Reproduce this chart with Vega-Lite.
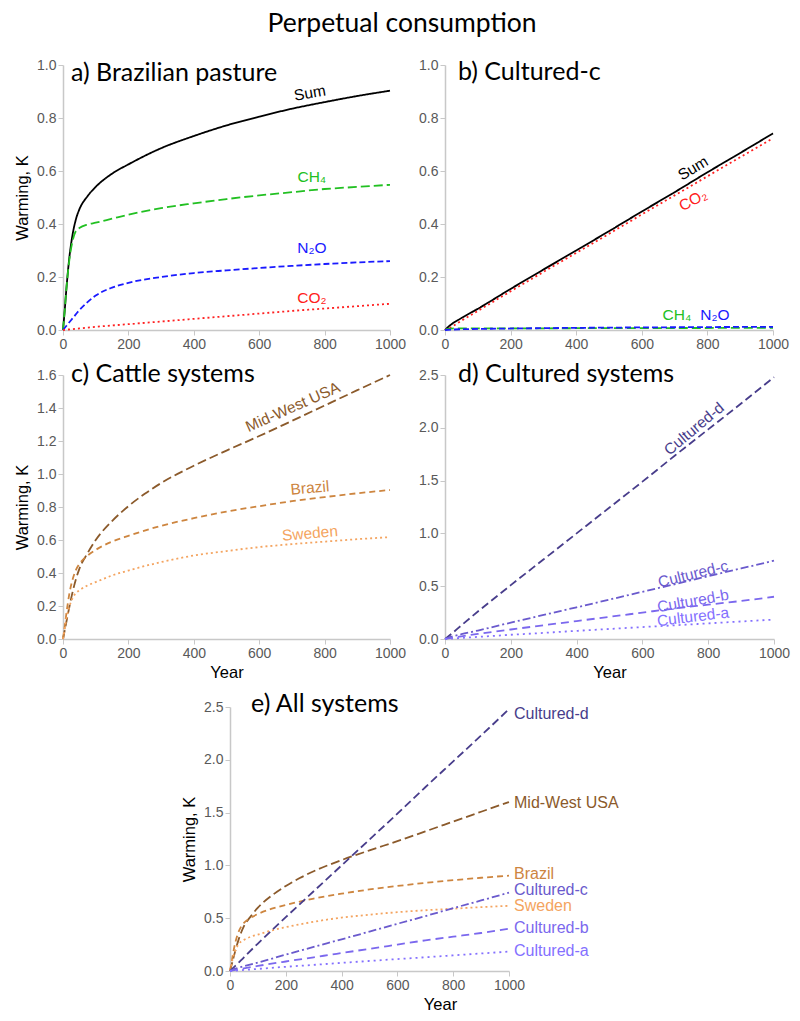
{
  "$schema": "https://vega.github.io/schema/vega-lite/v6.json",
  "background": "white",
  "padding": {"left": 14, "top": 10, "right": 5, "bottom": 5},
  "title": {"text": "Perpetual consumption", "font": "Lato", "fontSize": 26.5, "fontWeight": "normal", "color": "#000000", "anchor": "middle", "offset": 21},
  "datasets": {
    "lines": [
      {"panel":"a","series":"Sum","year":0,"value":0},{"panel":"a","series":"Sum","year":5,"value":0.07},{"panel":"a","series":"Sum","year":10,"value":0.15},{"panel":"a","series":"Sum","year":20,"value":0.28},{"panel":"a","series":"Sum","year":30,"value":0.365},{"panel":"a","series":"Sum","year":40,"value":0.42},{"panel":"a","series":"Sum","year":50,"value":0.455},{"panel":"a","series":"Sum","year":75,"value":0.505},{"panel":"a","series":"Sum","year":100,"value":0.54},{"panel":"a","series":"Sum","year":150,"value":0.59},{"panel":"a","series":"Sum","year":200,"value":0.625},{"panel":"a","series":"Sum","year":300,"value":0.686},{"panel":"a","series":"Sum","year":400,"value":0.732},{"panel":"a","series":"Sum","year":500,"value":0.772},{"panel":"a","series":"Sum","year":600,"value":0.805},{"panel":"a","series":"Sum","year":700,"value":0.835},{"panel":"a","series":"Sum","year":800,"value":0.86},{"panel":"a","series":"Sum","year":900,"value":0.883},{"panel":"a","series":"Sum","year":1000,"value":0.903},
      {"panel":"a","series":"CH4","year":0,"value":0},{"panel":"a","series":"CH4","year":5,"value":0.07},{"panel":"a","series":"CH4","year":10,"value":0.15},{"panel":"a","series":"CH4","year":20,"value":0.27},{"panel":"a","series":"CH4","year":30,"value":0.34},{"panel":"a","series":"CH4","year":40,"value":0.375},{"panel":"a","series":"CH4","year":50,"value":0.385},{"panel":"a","series":"CH4","year":75,"value":0.398},{"panel":"a","series":"CH4","year":100,"value":0.405},{"panel":"a","series":"CH4","year":150,"value":0.42},{"panel":"a","series":"CH4","year":200,"value":0.435},{"panel":"a","series":"CH4","year":300,"value":0.46},{"panel":"a","series":"CH4","year":400,"value":0.478},{"panel":"a","series":"CH4","year":500,"value":0.494},{"panel":"a","series":"CH4","year":600,"value":0.508},{"panel":"a","series":"CH4","year":700,"value":0.52},{"panel":"a","series":"CH4","year":800,"value":0.532},{"panel":"a","series":"CH4","year":900,"value":0.54},{"panel":"a","series":"CH4","year":1000,"value":0.548},
      {"panel":"a","series":"N2O","year":0,"value":0},{"panel":"a","series":"N2O","year":10,"value":0.015},{"panel":"a","series":"N2O","year":20,"value":0.03},{"panel":"a","series":"N2O","year":30,"value":0.045},{"panel":"a","series":"N2O","year":50,"value":0.075},{"panel":"a","series":"N2O","year":75,"value":0.105},{"panel":"a","series":"N2O","year":100,"value":0.13},{"panel":"a","series":"N2O","year":150,"value":0.16},{"panel":"a","series":"N2O","year":200,"value":0.178},{"panel":"a","series":"N2O","year":300,"value":0.2},{"panel":"a","series":"N2O","year":400,"value":0.215},{"panel":"a","series":"N2O","year":500,"value":0.225},{"panel":"a","series":"N2O","year":600,"value":0.234},{"panel":"a","series":"N2O","year":700,"value":0.242},{"panel":"a","series":"N2O","year":800,"value":0.249},{"panel":"a","series":"N2O","year":900,"value":0.255},{"panel":"a","series":"N2O","year":1000,"value":0.26},
      {"panel":"a","series":"CO2","year":0,"value":0},{"panel":"a","series":"CO2","year":50,"value":0.006},{"panel":"a","series":"CO2","year":100,"value":0.012},{"panel":"a","series":"CO2","year":200,"value":0.022},{"panel":"a","series":"CO2","year":300,"value":0.032},{"panel":"a","series":"CO2","year":400,"value":0.042},{"panel":"a","series":"CO2","year":500,"value":0.052},{"panel":"a","series":"CO2","year":600,"value":0.062},{"panel":"a","series":"CO2","year":700,"value":0.072},{"panel":"a","series":"CO2","year":800,"value":0.081},{"panel":"a","series":"CO2","year":900,"value":0.09},{"panel":"a","series":"CO2","year":1000,"value":0.099},
      {"panel":"b","series":"Sum","year":0,"value":0},{"panel":"b","series":"Sum","year":10,"value":0.012},{"panel":"b","series":"Sum","year":20,"value":0.022},{"panel":"b","series":"Sum","year":50,"value":0.045},{"panel":"b","series":"Sum","year":100,"value":0.08},{"panel":"b","series":"Sum","year":200,"value":0.155},{"panel":"b","series":"Sum","year":300,"value":0.228},{"panel":"b","series":"Sum","year":400,"value":0.3},{"panel":"b","series":"Sum","year":500,"value":0.373},{"panel":"b","series":"Sum","year":600,"value":0.447},{"panel":"b","series":"Sum","year":700,"value":0.52},{"panel":"b","series":"Sum","year":800,"value":0.595},{"panel":"b","series":"Sum","year":900,"value":0.668},{"panel":"b","series":"Sum","year":1000,"value":0.742},
      {"panel":"b","series":"CO2","year":0,"value":0},{"panel":"b","series":"CO2","year":10,"value":0.006},{"panel":"b","series":"CO2","year":20,"value":0.012},{"panel":"b","series":"CO2","year":50,"value":0.035},{"panel":"b","series":"CO2","year":100,"value":0.072},{"panel":"b","series":"CO2","year":200,"value":0.146},{"panel":"b","series":"CO2","year":300,"value":0.219},{"panel":"b","series":"CO2","year":400,"value":0.291},{"panel":"b","series":"CO2","year":500,"value":0.363},{"panel":"b","series":"CO2","year":600,"value":0.436},{"panel":"b","series":"CO2","year":700,"value":0.508},{"panel":"b","series":"CO2","year":800,"value":0.58},{"panel":"b","series":"CO2","year":900,"value":0.652},{"panel":"b","series":"CO2","year":1000,"value":0.724},
      {"panel":"b","series":"CH4","year":0,"value":0},{"panel":"b","series":"CH4","year":10,"value":0.004},{"panel":"b","series":"CH4","year":30,"value":0.006},{"panel":"b","series":"CH4","year":100,"value":0.006},{"panel":"b","series":"CH4","year":500,"value":0.007},{"panel":"b","series":"CH4","year":1000,"value":0.008},
      {"panel":"b","series":"N2O","year":0,"value":0},{"panel":"b","series":"N2O","year":50,"value":0.003},{"panel":"b","series":"N2O","year":100,"value":0.004},{"panel":"b","series":"N2O","year":300,"value":0.007},{"panel":"b","series":"N2O","year":500,"value":0.009},{"panel":"b","series":"N2O","year":800,"value":0.011},{"panel":"b","series":"N2O","year":1000,"value":0.012},
      {"panel":"c","series":"Mid-West USA","year":0,"value":0},{"panel":"c","series":"Mid-West USA","year":5,"value":0.05},{"panel":"c","series":"Mid-West USA","year":10,"value":0.1},{"panel":"c","series":"Mid-West USA","year":20,"value":0.2},{"panel":"c","series":"Mid-West USA","year":30,"value":0.29},{"panel":"c","series":"Mid-West USA","year":40,"value":0.365},{"panel":"c","series":"Mid-West USA","year":50,"value":0.425},{"panel":"c","series":"Mid-West USA","year":75,"value":0.52},{"panel":"c","series":"Mid-West USA","year":100,"value":0.6},{"panel":"c","series":"Mid-West USA","year":150,"value":0.715},{"panel":"c","series":"Mid-West USA","year":200,"value":0.805},{"panel":"c","series":"Mid-West USA","year":250,"value":0.88},{"panel":"c","series":"Mid-West USA","year":300,"value":0.945},{"panel":"c","series":"Mid-West USA","year":400,"value":1.05},{"panel":"c","series":"Mid-West USA","year":500,"value":1.142},{"panel":"c","series":"Mid-West USA","year":600,"value":1.23},{"panel":"c","series":"Mid-West USA","year":700,"value":1.322},{"panel":"c","series":"Mid-West USA","year":800,"value":1.415},{"panel":"c","series":"Mid-West USA","year":900,"value":1.508},{"panel":"c","series":"Mid-West USA","year":1000,"value":1.6},
      {"panel":"c","series":"Brazil","year":0,"value":0},{"panel":"c","series":"Brazil","year":5,"value":0.07},{"panel":"c","series":"Brazil","year":10,"value":0.15},{"panel":"c","series":"Brazil","year":20,"value":0.28},{"panel":"c","series":"Brazil","year":30,"value":0.365},{"panel":"c","series":"Brazil","year":40,"value":0.42},{"panel":"c","series":"Brazil","year":50,"value":0.455},{"panel":"c","series":"Brazil","year":75,"value":0.505},{"panel":"c","series":"Brazil","year":100,"value":0.54},{"panel":"c","series":"Brazil","year":150,"value":0.59},{"panel":"c","series":"Brazil","year":200,"value":0.625},{"panel":"c","series":"Brazil","year":300,"value":0.686},{"panel":"c","series":"Brazil","year":400,"value":0.732},{"panel":"c","series":"Brazil","year":500,"value":0.772},{"panel":"c","series":"Brazil","year":600,"value":0.805},{"panel":"c","series":"Brazil","year":700,"value":0.835},{"panel":"c","series":"Brazil","year":800,"value":0.86},{"panel":"c","series":"Brazil","year":900,"value":0.883},{"panel":"c","series":"Brazil","year":1000,"value":0.903},
      {"panel":"c","series":"Sweden","year":0,"value":0},{"panel":"c","series":"Sweden","year":5,"value":0.06},{"panel":"c","series":"Sweden","year":10,"value":0.12},{"panel":"c","series":"Sweden","year":20,"value":0.2},{"panel":"c","series":"Sweden","year":30,"value":0.25},{"panel":"c","series":"Sweden","year":40,"value":0.28},{"panel":"c","series":"Sweden","year":50,"value":0.295},{"panel":"c","series":"Sweden","year":75,"value":0.325},{"panel":"c","series":"Sweden","year":100,"value":0.345},{"panel":"c","series":"Sweden","year":150,"value":0.385},{"panel":"c","series":"Sweden","year":200,"value":0.415},{"panel":"c","series":"Sweden","year":300,"value":0.466},{"panel":"c","series":"Sweden","year":400,"value":0.506},{"panel":"c","series":"Sweden","year":500,"value":0.533},{"panel":"c","series":"Sweden","year":600,"value":0.557},{"panel":"c","series":"Sweden","year":700,"value":0.575},{"panel":"c","series":"Sweden","year":800,"value":0.59},{"panel":"c","series":"Sweden","year":900,"value":0.605},{"panel":"c","series":"Sweden","year":1000,"value":0.617},
      {"panel":"d","series":"Cultured-d","year":0,"value":0},{"panel":"d","series":"Cultured-d","year":20,"value":0.05},{"panel":"d","series":"Cultured-d","year":50,"value":0.13},{"panel":"d","series":"Cultured-d","year":100,"value":0.26},{"panel":"d","series":"Cultured-d","year":200,"value":0.51},{"panel":"d","series":"Cultured-d","year":300,"value":0.755},{"panel":"d","series":"Cultured-d","year":400,"value":1.0},{"panel":"d","series":"Cultured-d","year":500,"value":1.245},{"panel":"d","series":"Cultured-d","year":600,"value":1.49},{"panel":"d","series":"Cultured-d","year":700,"value":1.74},{"panel":"d","series":"Cultured-d","year":800,"value":1.985},{"panel":"d","series":"Cultured-d","year":900,"value":2.23},{"panel":"d","series":"Cultured-d","year":1000,"value":2.48},
      {"panel":"d","series":"Cultured-c","year":0,"value":0},{"panel":"d","series":"Cultured-c","year":10,"value":0.012},{"panel":"d","series":"Cultured-c","year":20,"value":0.022},{"panel":"d","series":"Cultured-c","year":50,"value":0.045},{"panel":"d","series":"Cultured-c","year":100,"value":0.08},{"panel":"d","series":"Cultured-c","year":200,"value":0.155},{"panel":"d","series":"Cultured-c","year":300,"value":0.228},{"panel":"d","series":"Cultured-c","year":400,"value":0.3},{"panel":"d","series":"Cultured-c","year":500,"value":0.373},{"panel":"d","series":"Cultured-c","year":600,"value":0.447},{"panel":"d","series":"Cultured-c","year":700,"value":0.52},{"panel":"d","series":"Cultured-c","year":800,"value":0.595},{"panel":"d","series":"Cultured-c","year":900,"value":0.668},{"panel":"d","series":"Cultured-c","year":1000,"value":0.742},
      {"panel":"d","series":"Cultured-b","year":0,"value":0},{"panel":"d","series":"Cultured-b","year":20,"value":0.01},{"panel":"d","series":"Cultured-b","year":50,"value":0.025},{"panel":"d","series":"Cultured-b","year":100,"value":0.048},{"panel":"d","series":"Cultured-b","year":200,"value":0.09},{"panel":"d","series":"Cultured-b","year":300,"value":0.13},{"panel":"d","series":"Cultured-b","year":400,"value":0.17},{"panel":"d","series":"Cultured-b","year":500,"value":0.21},{"panel":"d","series":"Cultured-b","year":600,"value":0.25},{"panel":"d","series":"Cultured-b","year":700,"value":0.29},{"panel":"d","series":"Cultured-b","year":800,"value":0.325},{"panel":"d","series":"Cultured-b","year":900,"value":0.36},{"panel":"d","series":"Cultured-b","year":1000,"value":0.4},
      {"panel":"d","series":"Cultured-a","year":0,"value":0},{"panel":"d","series":"Cultured-a","year":50,"value":0.01},{"panel":"d","series":"Cultured-a","year":100,"value":0.02},{"panel":"d","series":"Cultured-a","year":200,"value":0.04},{"panel":"d","series":"Cultured-a","year":300,"value":0.058},{"panel":"d","series":"Cultured-a","year":400,"value":0.077},{"panel":"d","series":"Cultured-a","year":500,"value":0.095},{"panel":"d","series":"Cultured-a","year":600,"value":0.113},{"panel":"d","series":"Cultured-a","year":700,"value":0.13},{"panel":"d","series":"Cultured-a","year":800,"value":0.148},{"panel":"d","series":"Cultured-a","year":900,"value":0.166},{"panel":"d","series":"Cultured-a","year":1000,"value":0.184}
    ],
    "labels": [
      {"panel":"a","series":"Sum","label":"Sum","year":755,"value":0.894},
      {"panel":"a","series":"CH4","label":"CH₄","year":761,"value":0.577},
      {"panel":"a","series":"N2O","label":"N₂O","year":761,"value":0.31},
      {"panel":"a","series":"CO2","label":"CO₂","year":761,"value":0.12},
      {"panel":"b","series":"Sum","label":"Sum","year":756,"value":0.61},
      {"panel":"b","series":"CO2","label":"CO₂","year":756,"value":0.49},
      {"panel":"b","series":"CH4","label":"CH₄","year":707,"value":0.057},
      {"panel":"b","series":"N2O","label":"N₂O","year":823,"value":0.057},
      {"panel":"c","series":"Mid-West USA","label":"Mid-West USA","year":703,"value":1.406},
      {"panel":"c","series":"Brazil","label":"Brazil","year":755,"value":0.915},
      {"panel":"c","series":"Sweden","label":"Sweden","year":755,"value":0.64},
      {"panel":"d","series":"Cultured-d","label":"Cultured-d","year":757,"value":1.99},
      {"panel":"d","series":"Cultured-c","label":"Cultured-c","year":754,"value":0.615},
      {"panel":"d","series":"Cultured-b","label":"Cultured-b","year":754,"value":0.36},
      {"panel":"d","series":"Cultured-a","label":"Cultured-a","year":754,"value":0.21},
      {"panel":"e","series":"Cultured-d","label":"Cultured-d","year":1000,"value":2.43},
      {"panel":"e","series":"Mid-West USA","label":"Mid-West USA","year":1000,"value":1.59},
      {"panel":"e","series":"Brazil","label":"Brazil","year":1000,"value":0.92},
      {"panel":"e","series":"Cultured-c","label":"Cultured-c","year":1000,"value":0.77},
      {"panel":"e","series":"Sweden","label":"Sweden","year":1000,"value":0.62},
      {"panel":"e","series":"Cultured-b","label":"Cultured-b","year":1000,"value":0.41},
      {"panel":"e","series":"Cultured-a","label":"Cultured-a","year":1000,"value":0.19}
    ],
    "blank": [{"v": 0}]
  },
  "spacing": 11,
  "vconcat": [
    {
      "spacing": 12,
      "hconcat": [
        {
          "width": 327, "height": 265,
          "title": {"text": "a) Brazilian pasture", "anchor": "start", "frame": "group", "baseline": "top", "offset": -28, "dx": 8, "font": "Lato", "fontSize": 25, "fontWeight": "normal", "color": "#000000"},
          "encoding": {
            "x": {"field": "year", "type": "quantitative", "scale": {"domain": [0, 1000], "nice": false}, "axis": {"values": [0, 200, 400, 600, 800, 1000], "format": "d", "title": null}},
            "y": {"field": "value", "type": "quantitative", "scale": {"domain": [0, 1], "nice": false}, "axis": {"values": [0, 0.2, 0.4, 0.6, 0.8, 1.0], "format": ".1f", "title": "Warming, K"}},
            "color": {"field": "series", "type": "nominal", "legend": null, "scale": {"domain": ["Sum","CH4","N2O","CO2","Mid-West USA","Brazil","Sweden","Cultured-d","Cultured-c","Cultured-b","Cultured-a"], "range": ["#000000","#22c022","#1a1aff","#ff2020","#8b5a2b","#cd853f","#f4a460","#483d8b","#6a5acd","#7b68ee","#8470ff"]}}
          },
          "layer": [
            {"data": {"name": "lines"}, "transform": [{"filter": "datum.panel == 'a'"}], "mark": {"type": "line", "strokeWidth": 1.8, "interpolate": "monotone"},
             "encoding": {"strokeDash": {"field": "series", "type": "nominal", "legend": null, "scale": {"domain": ["Sum","CH4","N2O","CO2","Mid-West USA","Brazil","Sweden","Cultured-d","Cultured-c","Cultured-b","Cultured-a"], "range": [[1,0],[9,4],[6,3],[2,3],[9,4],[6,4],[2,3],[8,4],[8,3,2,3],[8,5],[2,4]]}}}},
            {"data": {"name": "labels"}, "transform": [{"filter": "datum.panel == 'a' && datum.series != 'Sum'"}], "mark": {"type": "text", "font": "Liberation Sans", "fontSize": 15.5}, "encoding": {"text": {"field": "label"}}},
            {"data": {"name": "labels"}, "transform": [{"filter": "datum.panel == 'a' && datum.series == 'Sum'"}], "mark": {"type": "text", "font": "Liberation Sans", "fontSize": 15.5, "angle": 350}, "encoding": {"text": {"field": "label"}}}
          ]
        },
        {
          "width": 328, "height": 265,
          "title": {"text": "b) Cultured-c", "anchor": "start", "frame": "group", "baseline": "top", "offset": -27, "dx": 13, "font": "Lato", "fontSize": 25, "fontWeight": "normal", "color": "#000000"},
          "encoding": {
            "x": {"field": "year", "type": "quantitative", "scale": {"domain": [0, 1000], "nice": false}, "axis": {"values": [0, 200, 400, 600, 800, 1000], "format": "d", "title": null}},
            "y": {"field": "value", "type": "quantitative", "scale": {"domain": [0, 1], "nice": false}, "axis": {"values": [0, 0.2, 0.4, 0.6, 0.8, 1.0], "format": ".1f", "title": null}},
            "color": {"field": "series", "type": "nominal", "legend": null, "scale": {"domain": ["Sum","CH4","N2O","CO2","Mid-West USA","Brazil","Sweden","Cultured-d","Cultured-c","Cultured-b","Cultured-a"], "range": ["#000000","#22c022","#1a1aff","#ff2020","#8b5a2b","#cd853f","#f4a460","#483d8b","#6a5acd","#7b68ee","#8470ff"]}}
          },
          "layer": [
            {"data": {"name": "lines"}, "transform": [{"filter": "datum.panel == 'b'"}], "mark": {"type": "line", "strokeWidth": 1.8, "interpolate": "monotone"},
             "encoding": {"strokeDash": {"field": "series", "type": "nominal", "legend": null, "scale": {"domain": ["Sum","CH4","N2O","CO2","Mid-West USA","Brazil","Sweden","Cultured-d","Cultured-c","Cultured-b","Cultured-a"], "range": [[1,0],[9,4],[6,3],[2,3],[9,4],[6,4],[2,3],[8,4],[8,3,2,3],[8,5],[2,4]]}}}},
            {"data": {"name": "labels"}, "transform": [{"filter": "datum.panel == 'b' && (datum.series == 'CH4' || datum.series == 'N2O')"}], "mark": {"type": "text", "font": "Liberation Sans", "fontSize": 15.5}, "encoding": {"text": {"field": "label"}}},
            {"data": {"name": "labels"}, "transform": [{"filter": "datum.panel == 'b' && datum.series == 'Sum'"}], "mark": {"type": "text", "font": "Liberation Sans", "fontSize": 15.5, "angle": 329}, "encoding": {"text": {"field": "label"}}},
            {"data": {"name": "labels"}, "transform": [{"filter": "datum.panel == 'b' && datum.series == 'CO2'"}], "mark": {"type": "text", "font": "Liberation Sans", "fontSize": 15.5, "angle": 332}, "encoding": {"text": {"field": "label"}}}
          ]
        }
      ]
    },
    {
      "spacing": 12,
      "hconcat": [
        {
          "width": 327, "height": 264,
          "title": {"text": "c) Cattle systems", "anchor": "start", "frame": "group", "baseline": "top", "offset": -19, "dx": 8, "font": "Lato", "fontSize": 25, "fontWeight": "normal", "color": "#000000"},
          "encoding": {
            "x": {"field": "year", "type": "quantitative", "scale": {"domain": [0, 1000], "nice": false}, "axis": {"values": [0, 200, 400, 600, 800, 1000], "format": "d", "title": "Year"}},
            "y": {"field": "value", "type": "quantitative", "scale": {"domain": [0, 1.6], "nice": false}, "axis": {"values": [0, 0.2, 0.4, 0.6, 0.8, 1.0, 1.2, 1.4, 1.6], "format": ".1f", "title": "Warming, K"}},
            "color": {"field": "series", "type": "nominal", "legend": null, "scale": {"domain": ["Sum","CH4","N2O","CO2","Mid-West USA","Brazil","Sweden","Cultured-d","Cultured-c","Cultured-b","Cultured-a"], "range": ["#000000","#22c022","#1a1aff","#ff2020","#8b5a2b","#cd853f","#f4a460","#483d8b","#6a5acd","#7b68ee","#8470ff"]}}
          },
          "layer": [
            {"data": {"name": "lines"}, "transform": [{"filter": "datum.panel == 'c'"}], "mark": {"type": "line", "strokeWidth": 1.8, "interpolate": "monotone"},
             "encoding": {"strokeDash": {"field": "series", "type": "nominal", "legend": null, "scale": {"domain": ["Sum","CH4","N2O","CO2","Mid-West USA","Brazil","Sweden","Cultured-d","Cultured-c","Cultured-b","Cultured-a"], "range": [[1,0],[9,4],[6,3],[2,3],[9,4],[6,4],[2,3],[8,4],[8,3,2,3],[8,5],[2,4]]}}}},
            {"data": {"name": "labels"}, "transform": [{"filter": "datum.panel == 'c' && datum.series == 'Mid-West USA'"}], "mark": {"type": "text", "font": "Liberation Sans", "fontSize": 15.5, "angle": 336}, "encoding": {"text": {"field": "label"}}},
            {"data": {"name": "labels"}, "transform": [{"filter": "datum.panel == 'c' && datum.series != 'Mid-West USA'"}], "mark": {"type": "text", "font": "Liberation Sans", "fontSize": 15.5, "angle": 355}, "encoding": {"text": {"field": "label"}}}
          ]
        },
        {
          "width": 329, "height": 264,
          "title": {"text": "d) Cultured systems", "anchor": "start", "frame": "group", "baseline": "top", "offset": -19, "dx": 13, "font": "Lato", "fontSize": 25, "fontWeight": "normal", "color": "#000000"},
          "encoding": {
            "x": {"field": "year", "type": "quantitative", "scale": {"domain": [0, 1000], "nice": false}, "axis": {"values": [0, 200, 400, 600, 800, 1000], "format": "d", "title": "Year"}},
            "y": {"field": "value", "type": "quantitative", "scale": {"domain": [0, 2.5], "nice": false}, "axis": {"values": [0, 0.5, 1.0, 1.5, 2.0, 2.5], "format": ".1f", "title": null}},
            "color": {"field": "series", "type": "nominal", "legend": null, "scale": {"domain": ["Sum","CH4","N2O","CO2","Mid-West USA","Brazil","Sweden","Cultured-d","Cultured-c","Cultured-b","Cultured-a"], "range": ["#000000","#22c022","#1a1aff","#ff2020","#8b5a2b","#cd853f","#f4a460","#483d8b","#6a5acd","#7b68ee","#8470ff"]}}
          },
          "layer": [
            {"data": {"name": "lines"}, "transform": [{"filter": "datum.panel == 'd'"}], "mark": {"type": "line", "strokeWidth": 1.8, "interpolate": "monotone"},
             "encoding": {"strokeDash": {"field": "series", "type": "nominal", "legend": null, "scale": {"domain": ["Sum","CH4","N2O","CO2","Mid-West USA","Brazil","Sweden","Cultured-d","Cultured-c","Cultured-b","Cultured-a"], "range": [[1,0],[9,4],[6,3],[2,3],[9,4],[6,4],[2,3],[8,4],[8,3,2,3],[8,5],[2,4]]}}}},
            {"data": {"name": "labels"}, "transform": [{"filter": "datum.panel == 'd' && datum.series == 'Cultured-d'"}], "mark": {"type": "text", "font": "Liberation Sans", "fontSize": 15.5, "angle": 320}, "encoding": {"text": {"field": "label"}}},
            {"data": {"name": "labels"}, "transform": [{"filter": "datum.panel == 'd' && datum.series == 'Cultured-c'"}], "mark": {"type": "text", "font": "Liberation Sans", "fontSize": 15.5, "angle": 346}, "encoding": {"text": {"field": "label"}}},
            {"data": {"name": "labels"}, "transform": [{"filter": "datum.panel == 'd' && datum.series == 'Cultured-b'"}], "mark": {"type": "text", "font": "Liberation Sans", "fontSize": 15.5, "angle": 350}, "encoding": {"text": {"field": "label"}}},
            {"data": {"name": "labels"}, "transform": [{"filter": "datum.panel == 'd' && datum.series == 'Cultured-a'"}], "mark": {"type": "text", "font": "Liberation Sans", "fontSize": 15.5, "angle": 353}, "encoding": {"text": {"field": "label"}}}
          ]
        }
      ]
    },
    {
      "spacing": 12,
      "hconcat": [
        {"width": 106, "height": 10, "data": {"name": "blank"}, "mark": {"type": "point", "opacity": 0}, "encoding": {}},
        {
          "width": 279, "height": 264,
          "title": {"text": "e) All systems", "anchor": "start", "frame": "group", "baseline": "top", "offset": -17, "dx": 21, "font": "Lato", "fontSize": 25, "fontWeight": "normal", "color": "#000000"},
          "encoding": {
            "x": {"field": "year", "type": "quantitative", "scale": {"domain": [0, 1000], "nice": false}, "axis": {"values": [0, 200, 400, 600, 800, 1000], "format": "d", "title": "Year", "titleX": 210}},
            "y": {"field": "value", "type": "quantitative", "scale": {"domain": [0, 2.5], "nice": false}, "axis": {"values": [0, 0.5, 1.0, 1.5, 2.0, 2.5], "format": ".1f", "title": "Warming, K"}},
            "color": {"field": "series", "type": "nominal", "legend": null, "scale": {"domain": ["Sum","CH4","N2O","CO2","Mid-West USA","Brazil","Sweden","Cultured-d","Cultured-c","Cultured-b","Cultured-a"], "range": ["#000000","#22c022","#1a1aff","#ff2020","#8b5a2b","#cd853f","#f4a460","#483d8b","#6a5acd","#7b68ee","#8470ff"]}}
          },
          "layer": [
            {"data": {"name": "lines"}, "transform": [{"filter": "datum.panel == 'c' || datum.panel == 'd'"}], "mark": {"type": "line", "strokeWidth": 1.8, "interpolate": "monotone"},
             "encoding": {"strokeDash": {"field": "series", "type": "nominal", "legend": null, "scale": {"domain": ["Sum","CH4","N2O","CO2","Mid-West USA","Brazil","Sweden","Cultured-d","Cultured-c","Cultured-b","Cultured-a"], "range": [[1,0],[9,4],[6,3],[2,3],[9,4],[6,4],[2,3],[8,4],[8,3,2,3],[8,5],[2,4]]}}}},
            {"data": {"name": "labels"}, "transform": [{"filter": "datum.panel == 'e'"}], "mark": {"type": "text", "font": "Liberation Sans", "fontSize": 16, "align": "left", "dx": 5}, "encoding": {"text": {"field": "label"}}}
          ]
        }
      ]
    }
  ],
  "config": {
    "view": {"stroke": null},
    "axis": {"grid": false, "domainColor": "#c8c8c8", "domainWidth": 1.5, "tickColor": "#c8c8c8", "tickSize": 5, "labelColor": "#595959", "labelFont": "Liberation Sans", "labelFontSize": 14, "titleFont": "Liberation Sans", "titleFontSize": 16.5, "titleFontWeight": "normal", "titleColor": "#000000"},
    "axisY": {"titlePadding": 6},
    "axisX": {"titlePadding": 4, "labelFlush": false}
  }
}
